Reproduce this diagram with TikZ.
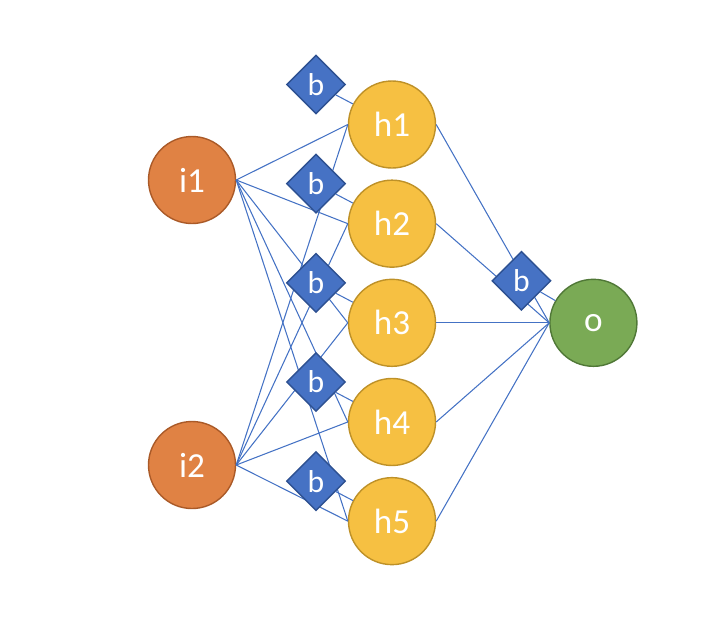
\documentclass[tikz,border=0pt]{standalone}
\usepackage{fontspec}
\setmainfont{Carlito}
\usetikzlibrary{shapes.geometric, positioning}
\definecolor{inorange}{RGB}{224, 130, 68}
\definecolor{inedge}{RGB}{170, 90, 40}
\definecolor{hidyellow}{RGB}{246, 192, 66}
\definecolor{hidedge}{RGB}{190, 145, 40}
\definecolor{outgreen}{RGB}{122, 170, 85}
\definecolor{outedge}{RGB}{80, 120, 55}
\definecolor{biasblue}{RGB}{70, 114, 196}
\definecolor{biasedge}{RGB}{45, 80, 145}
\definecolor{wire}{RGB}{68, 114, 196}

\begin{document}
\begin{tikzpicture}[
        neuron/.style={circle, thick, minimum size=1.74cm, inner sep=0pt, text=white, font=\fontsize{20}{22}\selectfont},
        input/.style={neuron, fill=inorange, draw=inedge},
        hidden/.style={neuron, fill=hidyellow, draw=hidedge},
        output/.style={neuron, fill=outgreen, draw=outedge},
        bias/.style={diamond, fill=biasblue, draw=biasedge, thick, minimum size=1.18cm, inner sep=0pt, text=white, font=\fontsize{18}{20}\selectfont},
        conn/.style={draw=wire, line width=0.6pt}
    ]
        \useasboundingbox (0,0) rectangle (14.56,-12.72);

        % neurons
        \node[hidden] (h1) at (7.84,-2.49) {h1};
        \node[hidden, below=0.215cm of h1] (h2) {h2};
        \node[hidden, below=0.215cm of h2] (h3) {h3};
        \node[hidden, below=0.215cm of h3] (h4) {h4};
        \node[hidden, below=0.215cm of h4] (h5) {h5};
        \node[input] (i1) at (3.84,-3.6) {i1};
        \node[input] (i2) at (3.84,-9.3) {i2};
        \node[output, right=2.26cm of h3] (o) {o};

        % weights
        \foreach \h in {h1,h2,h3,h4,h5} {
            \draw[conn] (i1.east) -- (\h.west);
            \draw[conn] (i2.east) -- (\h.west);
            \draw[conn] (\h.east) -- (o.west);
        }

        % biases
        \foreach \k in {1,...,5} {
            \node[bias] (b\k) at ([shift={(-1.52,0.8)}]h\k) {b};
            \draw[conn] (b\k) -- (h\k);
        }
        \node[bias] (bo) at ([shift={(-1.44,0.84)}]o) {b};
        \draw[conn] (bo) -- (o);
    \end{tikzpicture}
\end{document}
